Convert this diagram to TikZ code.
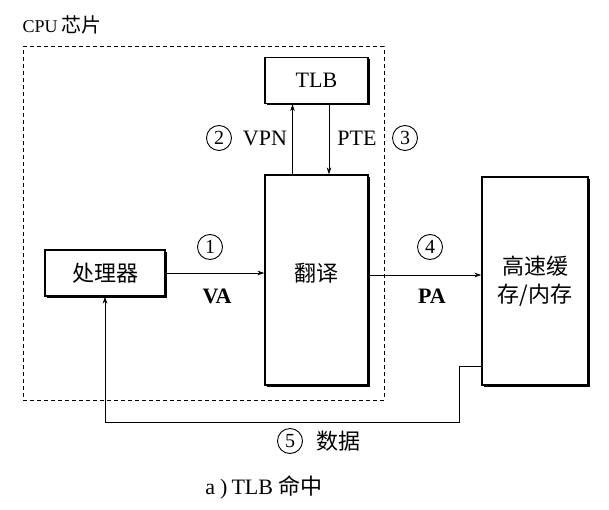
\documentclass[tikz,border=0pt]{standalone}
\usepackage{fontspec}
\setmainfont{Liberation Serif}
\newfontfamily\cjk{Noto Sans CJK SC}
\usepackage{tikz}
\usetikzlibrary{arrows.meta,calc,positioning,shadows}

\begin{document}
\begin{tikzpicture}[x=1pt,y=-1pt,font=\fontsize{22}{25}\selectfont,
    blk/.style={draw,line width=1.1pt,fill=white,inner sep=0pt,
      drop shadow={shadow xshift=1.8pt,shadow yshift=-1.8pt,fill=black,opacity=1}},
    num/.style={draw,circle,line width=.9pt,inner sep=0pt,minimum size=25pt,font=\fontsize{20}{23}\selectfont},
    >={Stealth[length=7pt,width=4.5pt]}]
        \useasboundingbox (0,0) rectangle (609,510);
        \node[right,font=\fontsize{18}{21}\selectfont] (cpulbl) at (19,25) {CPU\hspace{4pt}{\cjk\fontsize{20}{23}\selectfont 芯片}};
        \node[draw,line width=1pt,dash pattern=on 4pt off 3pt,minimum width=361pt,minimum height=353pt] (cpu) at (203.5,223.5) {};
        % boxes
        \node[blk,minimum width=120pt,minimum height=46pt] (proc) at (105,273) {\cjk 处理器};
        \node[blk,minimum width=103pt,minimum height=46pt] (tlb) at (316.5,80.5) {TLB};
        \node[blk,minimum width=103pt,minimum height=210pt] (xlate) at (316.5,280) {};
        \node (xlatetxt) at ($(xlate)+(0,-7)$) {\cjk 翻译};
        \node[blk,minimum width=106pt,minimum height=208pt,align=center,font=\fontsize{22}{28}\selectfont\cjk] (cache) at (535,281) {高速缓\\存/内存};
        % connectors
        \coordinate (vpn) at ($(tlb.south)+(-24,0)$);
        \coordinate (pte) at ($(tlb.south)+(12.5,0)$);
        \draw[->,line width=.9pt] (proc.east) -- (proc.east -| xlate.west);
        \draw[->,line width=.9pt] (vpn |- xlate.north) -- (vpn);
        \draw[->,line width=.9pt] (pte) -- (pte |- xlate.north);
        \draw[->,line width=.9pt] ($(xlate.east)+(0,-5)$) -- ($(cache.west)+(0,-6)$);
        \draw[->,line width=.9pt] ($(cache.west)+(0,85)$) -- ++(-22,0) -- ++(0,56) -| (proc.south);
        % labels
        \node[num] (n1) at (210,247) {1}; \node (va) at (217,296) {\textbf{VA}};
        \node[num] (n2) at (219,138) {2}; \node (vpnlbl) at (265,138) {VPN};
        \node (ptelbl) at (357,138) {PTE}; \node[num] (n3) at (405,138) {3};
        \node[num] (n4) at (430,247) {4}; \node (pa) at (432,296) {\textbf{PA}};
        \node[num] (n5) at (290,441) {5}; \node (data) at (338,441) {\cjk 数据};
        \node (cap) at (264,487) {a\hspace{5pt})\hspace{4pt}TLB {\cjk 命中}};
      \end{tikzpicture}
\end{document}
